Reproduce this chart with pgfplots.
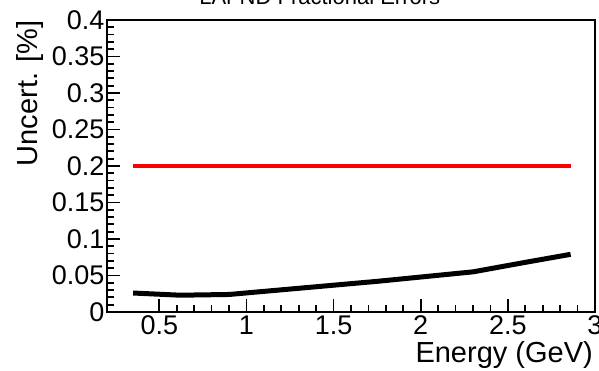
\documentclass[border=0pt]{standalone}
\usepackage{pgfplots}
\pgfplotsset{compat=1.18}
\usepackage{fontspec}
\setmainfont{Liberation Sans}

% fractional uncertainty per energy bin
\pgfplotstableread{
E     err
0.35  0.026
0.62  0.023
0.90  0.024
1.75  0.042
2.30  0.055
2.60  0.068
2.86  0.079
}\fracerr

\pgfplotstableread{
E     err
0.35  0.2
2.86  0.2
}\reference

\begin{document}
\begin{tikzpicture}
\useasboundingbox (-107pt,-59pt) rectangle (492pt,312pt);
\begin{axis}[
  at={(0,0)}, anchor=south west,
  scale only axis,
  width=488pt, height=292pt,
  xmin=0.2, xmax=3,
  ymin=0, ymax=0.4,
  xtick={0.5,1,1.5,2,2.5,3},
  ytick={0,0.05,0.1,0.15,0.2,0.25,0.3,0.35,0.4},
  minor x tick num=4,
  minor y tick num=4,
  xtick pos=bottom, ytick pos=left,
  tick align=inside,
  axis line style={line width=2pt},
  every tick/.style={black, line width=1.8pt},
  major tick length=13pt,
  minor tick length=7pt,
  /pgf/number format/assume math mode=true,
  /pgf/number format/fixed,
  /pgf/number format/precision=2,
  scaled y ticks=false,
  ticklabel style={font=\fontsize{27}{27}\selectfont},
  xticklabel style={yshift=0pt},
  yticklabel style={xshift=1pt},
  xlabel={Energy (GeV)},
  xlabel style={at={(axis description cs:1,0)}, anchor=base east,
    yshift=-51pt, xshift=-2pt, inner sep=0pt,
    font=\fontsize{29}{29}\selectfont},
  ylabel={Uncert. [\%]},
  ylabel style={at={(axis description cs:-0.142,1)}, anchor=base east,
    inner sep=0pt,
    font=\fontsize{29}{29}\selectfont},
  clip=false,
]
\addplot[red, line width=4.5pt] table[x=E, y=err] {\reference};
\addplot[black, line width=5pt, line join=round] table[x=E, y=err] {\fracerr};
\node[anchor=base, font=\fontsize{22}{22}\selectfont]
  at (axis description cs:0.436,1) [yshift=15pt] {LAr ND Fractional Errors};
\end{axis}
\end{tikzpicture}
\end{document}
